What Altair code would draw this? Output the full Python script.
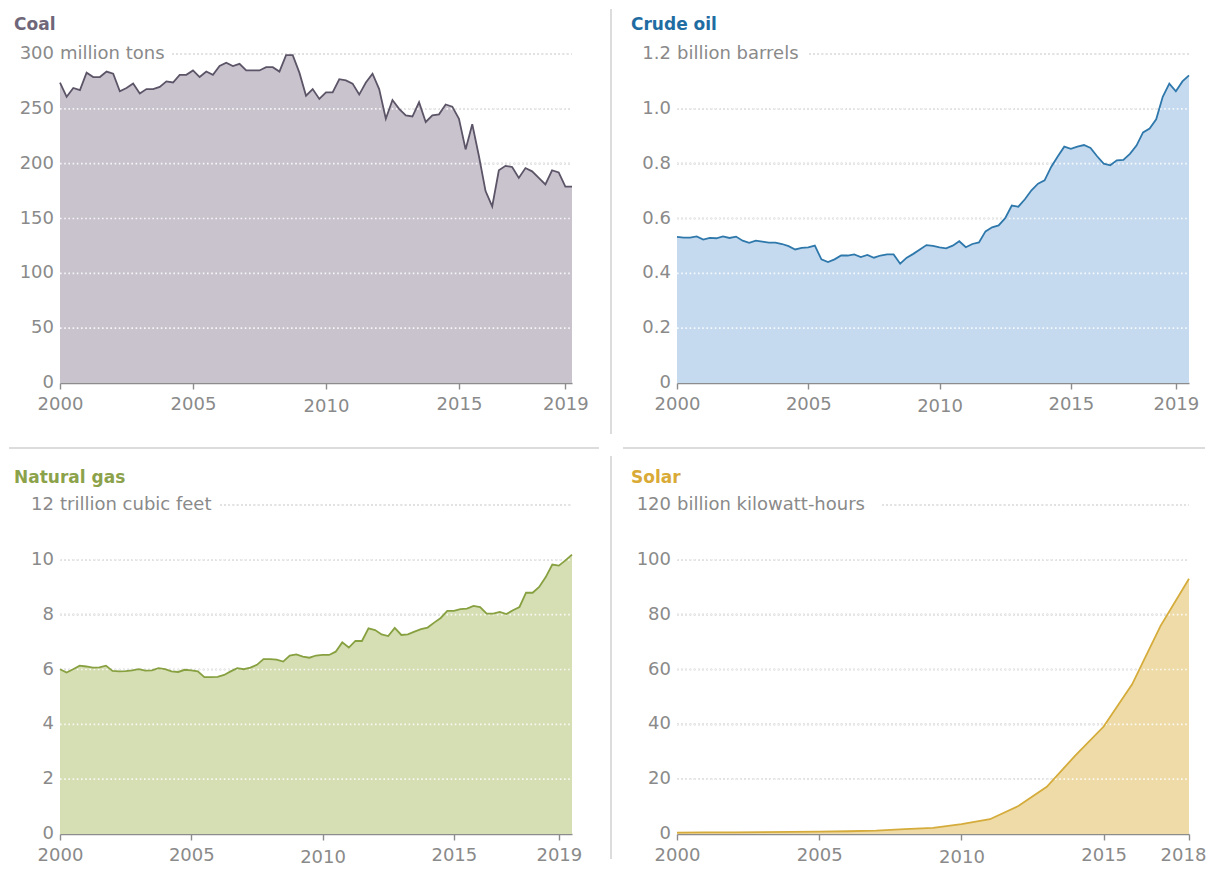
import altair as alt
import pandas as pd

# ---------------- data ----------------
coal_values = [274, 261, 269, 267, 283, 279, 279, 284, 282, 266, 269, 273, 264, 268, 268, 270,
               275, 274, 281, 281, 285, 279, 284, 281, 289, 292, 289, 291, 285, 285, 285, 288,
               288, 284, 299, 299, 283, 262, 268, 259, 265, 265, 277, 276, 273, 263, 274, 282,
               268, 241, 258, 250, 244, 243, 256, 238, 244, 245, 254, 252, 241, 213, 236, 207,
               175, 161, 194, 198, 197, 187, 196, 193, 187, 181, 194, 192, 179, 179]

oil_values = [0.533, 0.530, 0.530, 0.535, 0.523, 0.529, 0.528, 0.535, 0.529, 0.534, 0.519, 0.511,
              0.519, 0.516, 0.512, 0.512, 0.507, 0.499, 0.487, 0.493, 0.495, 0.501, 0.451, 0.441,
              0.451, 0.465, 0.465, 0.469, 0.459, 0.467, 0.457, 0.465, 0.469, 0.469, 0.435, 0.457,
              0.471, 0.487, 0.503, 0.500, 0.495, 0.491, 0.501, 0.517, 0.495, 0.507, 0.513, 0.553,
              0.568, 0.575, 0.601, 0.647, 0.643, 0.670, 0.703, 0.727, 0.739, 0.788, 0.826, 0.862,
              0.854, 0.862, 0.868, 0.857, 0.827, 0.800, 0.794, 0.812, 0.814, 0.836, 0.866, 0.914,
              0.928, 0.962, 1.044, 1.092, 1.064, 1.100, 1.122]

gas_values = [6.01, 5.89, 6.01, 6.14, 6.11, 6.07, 6.08, 6.14, 5.95, 5.93, 5.94, 5.97, 6.01, 5.96,
              5.97, 6.05, 6.01, 5.93, 5.91, 5.99, 5.97, 5.93, 5.72, 5.72, 5.73, 5.80, 5.93, 6.05,
              6.01, 6.07, 6.17, 6.38, 6.38, 6.36, 6.29, 6.51, 6.55, 6.47, 6.43, 6.51, 6.53, 6.53,
              6.65, 6.99, 6.80, 7.04, 7.04, 7.50, 7.44, 7.28, 7.22, 7.52, 7.26, 7.28, 7.38, 7.47,
              7.53, 7.71, 7.88, 8.14, 8.14, 8.20, 8.22, 8.32, 8.28, 8.04, 8.04, 8.10, 8.02, 8.16,
              8.28, 8.80, 8.80, 9.01, 9.37, 9.83, 9.79, 9.98, 10.19]

solar_years = [2000, 2001, 2002, 2003, 2004, 2005, 2006, 2007, 2008, 2009,
               2010, 2011, 2012, 2013, 2014, 2015, 2016, 2017, 2018]
solar_values = [0.5, 0.6, 0.6, 0.7, 0.8, 0.9, 1.0, 1.2, 1.8, 2.2,
                3.6, 5.4, 10.2, 17.2, 28.6, 39.2, 54.6, 75.9, 93.1]

coal_t = [2000 + i / 4 for i in range(len(coal_values))]
oil_t = [2000 + i / 4 for i in range(len(oil_values))]
gas_t = [2000 + i / 4 for i in range(len(gas_values))]

titles = ["Coal", "Crude oil", "Natural gas", "Solar"]
units = ["million tons", "billion barrels", "trillion cubic feet", "billion kilowatt-hours"]
coal_ticks = [0, 50, 100, 150, 200, 250, 300]
coal_tick_labels = ["0", "50", "100", "150", "200", "250", "300"]
oil_ticks = [0, 0.2, 0.4, 0.6, 0.8, 1.0, 1.2]
oil_tick_labels = ["0", "0.2", "0.4", "0.6", "0.8", "1.0", "1.2"]
gas_ticks = [0, 2, 4, 6, 8, 10, 12]
gas_tick_labels = ["0", "2", "4", "6", "8", "10", "12"]
solar_ticks = [0, 20, 40, 60, 80, 100, 120]
solar_tick_labels = ["0", "20", "40", "60", "80", "100", "120"]
year_ticks_q = [2000, 2005, 2010, 2015, 2019]
year_ticks_solar = [2000, 2005, 2010, 2015, 2018]

# ---------------- style ----------------
FONT = "DejaVu Sans"
TXT = "#8a8a8a"
GRID = "#999999"
SEP = "#dcdcdc"
H = 329


def panel(t, v, yticks, ylabels, xticks, title, unit, W, top_start,
          fill, stroke, tcolor, title_y, seps, last_offset=0):
    df = pd.DataFrame({"t": t, "v": v})
    ymax = yticks[-1]
    yscale = alt.Scale(domain=[0, ymax], nice=False, zero=True)
    xscale = alt.Scale(domain=[t[0], t[-1]], nice=False, zero=False)

    mid = pd.DataFrame({"g": yticks[1:-1]})
    top = pd.DataFrame({"g": [ymax]})
    lab = pd.DataFrame({"g": yticks, "txt": ylabels})

    def grid(color, opacity):
        a = alt.Chart(mid).mark_rule(color=color, strokeDash=[1.6, 2.6], strokeWidth=1.6,
                                     opacity=opacity).encode(
            x=alt.value(0), x2=alt.value(W), y=alt.Y("g:Q", scale=yscale, axis=None))
        b = alt.Chart(top).mark_rule(color=color, strokeDash=[1.6, 2.6], strokeWidth=1.6,
                                     opacity=opacity).encode(
            x=alt.value(top_start), x2=alt.value(W), y=alt.Y("g:Q", scale=yscale, axis=None))
        return a + b

    area = alt.Chart(df).mark_area(color=fill, opacity=1).encode(
        x=alt.X("t:Q", scale=xscale,
                axis=alt.Axis(values=xticks, format="d", title=None, grid=False,
                              domainColor="#8c8c8c", domainWidth=1.6,
                              tickColor="#8c8c8c", tickWidth=1.4, tickSize=6,
                              labelColor=TXT, labelFont=FONT, labelFontSize=18,
                              labelPadding={"condition": {"test": "datum.value == 2010", "value": 8},
                                            "value": 6},
                              labelOffset={"condition": {"test": "datum.value == %d" % xticks[-1],
                                                         "value": last_offset},
                                           "value": 0},
                              labelFlush=False, labelOverlap=False)),
        y=alt.Y("v:Q", scale=yscale, axis=None),
    )
    line = alt.Chart(df).mark_line(color=stroke, strokeWidth=1.8).encode(
        x=alt.X("t:Q", scale=xscale), y=alt.Y("v:Q", scale=yscale, axis=None))

    labels = alt.Chart(lab).mark_text(align="right", baseline="middle", font=FONT,
                                      fontSize=18, color=TXT).encode(
        x=alt.value(-6), y=alt.Y("g:Q", scale=yscale, axis=None), text="txt:N")
    unit_t = alt.Chart(top).mark_text(align="left", baseline="middle", font=FONT,
                                      fontSize=18, color=TXT, text=unit).encode(
        x=alt.value(0), y=alt.Y("g:Q", scale=yscale, axis=None))
    title_t = alt.Chart(top).mark_text(align="left", baseline="middle", font=FONT,
                                       fontSize=17, fontWeight="bold", color=tcolor,
                                       text=title).encode(
        x=alt.value(-46), y=alt.value(title_y))

    layers = [grid(GRID, 1), area, grid("#ffffff", 0.85), line, labels, unit_t, title_t]
    for (x1, x2, y1, y2) in seps:
        layers.append(alt.Chart(top).mark_rule(color=SEP, strokeWidth=2).encode(
            x=alt.value(x1), x2=alt.value(x2), y=alt.value(y1), y2=alt.value(y2)))
    return alt.layer(*layers).properties(width=W, height=H)


coal = panel(coal_t, coal_values, coal_ticks, coal_tick_labels, year_ticks_q,
             titles[0], units[0], 512, 112, "#c9c3ce", "#5c5467", "#6f6679", -29, [])
oil = panel(oil_t, oil_values, oil_ticks, oil_tick_labels, year_ticks_q,
            titles[1], units[1], 512, 132, "#c6daef", "#2f78ab", "#1f6ca3", -29,
            [(-66, -66, -45, 380)])
gas = panel(gas_t, gas_values, gas_ticks, gas_tick_labels, year_ticks_q,
            titles[2], units[2], 512, 160, "#d6deb4", "#87a040", "#8ca24a", -27,
            [(-51, 539, -57, -57)])
solar = panel(solar_years, solar_values, solar_ticks, solar_tick_labels, year_ticks_solar,
              titles[3], units[3], 512, 205, "#eedba8", "#d5ac3b", "#d9aa36", -27,
              [(-54, 528, -57, -57), (-66, -66, -49, 354)], last_offset=-6)

chart = alt.concat(coal, oil, gas, solar, columns=2,
                   spacing={"row": 122, "column": 105}, bounds="flush").properties(
    padding=0
).configure_view(strokeWidth=0)

chart.save("out.html", embed_options={"renderer": "svg", "actions": False})
